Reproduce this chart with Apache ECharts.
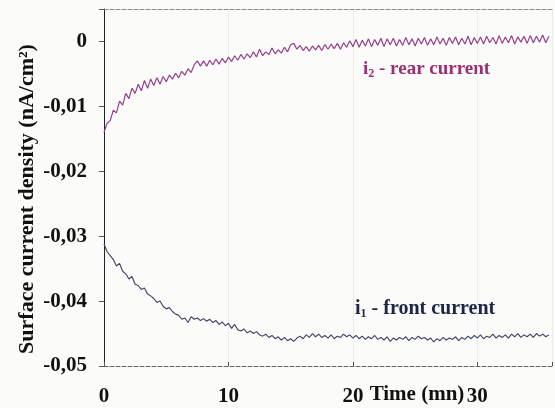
<!DOCTYPE html>
<html>
<head>
<meta charset="utf-8">
<script src="https://cdn.jsdelivr.net/npm/echarts@6/dist/echarts.min.js"></script>
<style>
  html, body { margin: 0; padding: 0; background: #fbfbfa; }
  #main { width: 555px; height: 408px; }
</style>
</head>
<body>
<div id="main"></div>
<script>
// sampling step of the recorder (minutes)
const timeStep = 0.25;

// rear current i2, pA/cm2 (one value every 0.25 mn)
const rearCurrent = [
  -14.0, -12.6, -12.2, -10.6, -11.0, -9.2, -9.8, -8.0,
  -8.8, -7.2, -8.0, -6.6, -7.6, -6.0, -7.2, -5.8,
  -6.8, -5.6, -6.6, -5.4, -6.2, -5.2, -5.8, -4.9,
  -5.6, -4.6, -5.2, -4.2, -4.8, -3.6, -3.0, -3.8,
  -3.0, -3.8, -2.9, -3.6, -2.7, -3.5, -2.6, -3.3,
  -2.4, -3.1, -2.2, -2.9, -2.0, -2.7, -1.9, -2.5,
  -1.6, -2.4, -1.2, -2.2, -1.6, -2.0, -1.0, -1.9,
  -1.3, -1.8, -0.9, -1.6, -0.5, -0.3, -1.2, -0.6,
  -1.4, -0.8, -1.5, -0.7, -1.3, -0.6, -1.4, -0.5,
  -1.2, -0.4, -1.1, -0.3, -1.2, -0.2, -0.9, 0.1,
  -0.8, 0.3, -0.9, 0.2, -0.7, 0.4, -0.8, 0.3,
  -0.6, 0.5, -0.8, 0.4, -0.5, 0.5, -0.7, 0.3,
  -0.6, 0.6, -0.5, 0.4, -0.7, 0.5, -0.4, 0.6,
  -0.6, 0.4, -0.5, 0.7, -0.4, 0.5, -0.6, 0.6,
  -0.3, 0.7, -0.5, 0.5, -0.4, 0.8, -0.5, 0.6,
  -0.3, 0.7, -0.4, 0.8, -0.2, 0.6, -0.4, 0.9,
  -0.3, 0.7, -0.2, 0.9, -0.4, 0.7, -0.1, 0.8,
  -0.3, 0.9, -0.2, 0.8, -0.1, 1.0, -0.2, 0.8
];

// front current i1, pA/cm2
const frontCurrent = [
  -31.2, -32.4, -33.0, -33.6, -34.6, -34.2, -35.4, -35.8,
  -36.6, -36.2, -37.4, -37.6, -38.2, -38.0, -38.9, -39.2,
  -39.6, -40.2, -40.0, -40.8, -41.2, -41.0, -41.6, -42.0,
  -42.2, -42.8, -42.6, -43.3, -42.4, -42.8, -42.6, -43.0,
  -42.7, -43.1, -42.8, -43.3, -43.0, -43.6, -43.2, -43.8,
  -43.4, -44.2, -43.6, -44.4, -44.6, -44.3, -44.9, -44.6,
  -45.0, -44.7, -45.2, -45.4, -45.1, -45.6, -45.3, -45.8,
  -45.5, -46.0, -45.6, -46.1, -45.8, -46.2, -45.7, -45.4,
  -45.8, -45.2, -45.6, -45.0, -45.5, -45.1, -45.6, -45.3,
  -45.7, -45.2, -45.8, -45.4, -45.6, -45.1, -45.5, -45.2,
  -45.7, -45.3, -45.8, -45.4, -45.9, -45.5, -45.8, -45.3,
  -45.9, -45.6, -46.0, -45.5, -46.2, -45.7, -46.0, -45.6,
  -45.9, -45.5, -46.1, -45.6, -45.9, -45.4, -45.8, -45.6,
  -46.0, -45.7, -46.3, -45.8, -46.1, -45.6, -46.0, -45.7,
  -45.9, -45.5, -46.1, -45.6, -45.9, -45.4, -45.8, -45.3,
  -45.7, -45.2, -45.8, -45.4, -45.6, -45.1, -45.7, -45.3,
  -45.6, -45.2, -45.7, -45.1, -45.5, -45.0, -45.6, -45.2,
  -45.5, -45.1, -45.6, -45.0, -45.4, -45.1, -45.5, -45.2
];

const xTicks = [0, 10, 20, 30];
const yTicks = [-0.05, -0.04, -0.03, -0.02, -0.01, 0];

const serif = '"Liberation Serif", "Times New Roman", serif';

// pA/cm2 -> nA/cm2
function toSeries(values) {
  return values.map((v, i) => [i * timeStep, v / 1000]);
}

function yLabel(v) {
  const hit = yTicks.find(t => Math.abs(t - v) < 1e-9);
  if (hit === undefined) return '';
  if (hit === 0) return '0';
  return hit.toFixed(2).replace('.', ',');
}

function xLabel(v) {
  const r = Math.round(v);
  return xTicks.indexOf(r) >= 0 && Math.abs(v - r) < 1e-9 ? String(r) : '';
}

const chart = echarts.init(document.getElementById('main'));

chart.setOption({
  backgroundColor: '#fbfbfa',
  animation: false,
  grid: { left: 104, right: 0, top: 9, bottom: 42 },
  xAxis: [{
    type: 'value',
    min: 0,
    max: 36,
    interval: 10,
    axisLine: { onZero: false, lineStyle: { color: '#666', type: 'dashed', width: 1 } },
    axisTick: { inside: true, length: 4, lineStyle: { color: '#555' } },
    splitLine: { show: true, lineStyle: { color: '#ececec' } },
    axisLabel: {
      formatter: xLabel,
      margin: 20,
      color: '#111',
      fontFamily: serif,
      fontWeight: 'bold',
      fontSize: 21
    }
  }, {
    type: 'value',
    position: 'top',
    min: 0,
    max: 36,
    axisLine: { show: true, onZero: false, lineStyle: { color: '#888', type: 'dashed', width: 1 } },
    axisTick: { show: false },
    axisLabel: { show: false },
    splitLine: { show: false }
  }],
  yAxis: {
    type: 'value',
    min: -0.05,
    max: 0.005,
    interval: 0.01,
    axisLine: { show: true, onZero: false, lineStyle: { color: '#222', width: 1 } },
    axisTick: { show: true, length: 5, lineStyle: { color: '#555' } },
    splitLine: { show: false },
    axisLabel: {
      formatter: yLabel,
      margin: 17,
      color: '#111',
      fontFamily: serif,
      fontWeight: 'bold',
      fontSize: 21
    }
  },
  graphic: [
    {
      type: 'text',
      x: 27,
      y: 199,
      rotation: Math.PI / 2,
      style: {
        text: 'Surface current density (nA/cm²)',
        font: 'bold 22px ' + serif,
        fill: '#111',
        align: 'center',
        verticalAlign: 'middle'
      }
    },
    {
      type: 'text',
      x: 417,
      y: 395,
      style: {
        text: 'Time (mn)',
        font: 'bold 21px ' + serif,
        fill: '#111',
        align: 'center',
        verticalAlign: 'middle'
      }
    },
    {
      type: 'text',
      x: 363,
      y: 69,
      style: {
        text: '{a|i}{s|2}{a| - rear current}',
        fill: '#9c2f72',
        align: 'left',
        verticalAlign: 'middle',
        rich: {
          a: { fontFamily: serif, fontWeight: 'bold', fontSize: 19, lineHeight: 22, fill: '#9c2f72' },
          s: { fontFamily: serif, fontWeight: 'bold', fontSize: 12, lineHeight: 12, verticalAlign: 'bottom', fill: '#9c2f72' }
        }
      }
    },
    {
      type: 'text',
      x: 355,
      y: 309,
      style: {
        text: '{a|i}{s|1}{a| - front current}',
        fill: '#1e2546',
        align: 'left',
        verticalAlign: 'middle',
        rich: {
          a: { fontFamily: serif, fontWeight: 'bold', fontSize: 20, lineHeight: 22, fill: '#1e2546' },
          s: { fontFamily: serif, fontWeight: 'bold', fontSize: 12, lineHeight: 12, verticalAlign: 'bottom', fill: '#1e2546' }
        }
      }
    }
  ],
  series: [
    {
      name: 'i2 - rear current',
      type: 'line',
      showSymbol: false,
      data: toSeries(rearCurrent),
      lineStyle: { color: '#963f8c', width: 1.2 }
    },
    {
      name: 'i1 - front current',
      type: 'line',
      showSymbol: false,
      data: toSeries(frontCurrent),
      lineStyle: { color: '#3d3f66', width: 1.1 }
    }
  ]
});
</script>
</body>
</html>
